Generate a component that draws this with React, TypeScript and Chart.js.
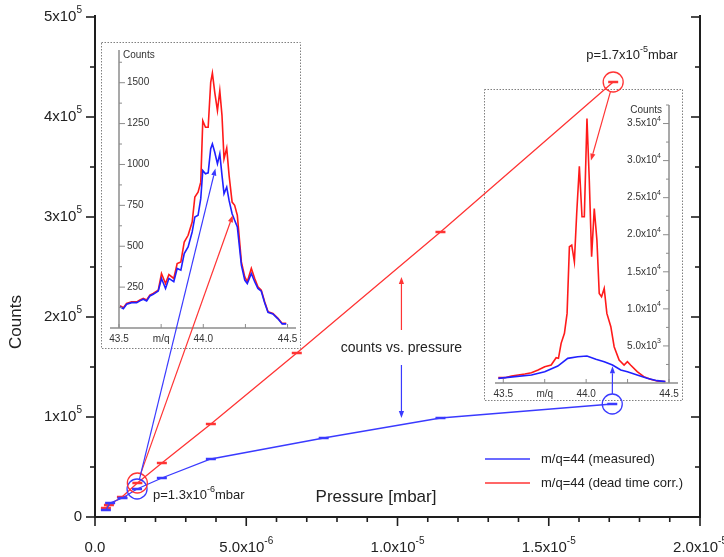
import React, { useEffect, useRef } from "react";
import { Chart, registerables } from "chart.js";
Chart.register(...registerables);

// ---------- main chart data ----------
const pressureMeasured = [3.6e-7, 5.0e-7, 9.1e-7, 1.39e-6, 2.21e-6, 3.83e-6, 7.56e-6, 1.142e-5, 1.71e-5];
const countsMeasured = [7000, 14000, 19000, 28000, 39000, 58000, 79000, 99000, 113000];
const pressureCorrected = [3.6e-7, 4.6e-7, 8.9e-7, 1.4e-6, 2.21e-6, 3.83e-6, 6.67e-6, 1.142e-5, 1.713e-5];
const countsCorrected = [9000, 12000, 20000, 34000, 54000, 93000, 164000, 285000, 435000];

const seriesLabels = ["m/q=44 (measured)", "m/q=44 (dead time corr.)"];

const mainXTicks = [0, 5e-6, 1e-5, 1.5e-5, 2e-5];
const mainXTickLabels = ["0.0", "5.0x10^{-6}", "1.0x10^{-5}", "1.5x10^{-5}", "2.0x10^{-5}"];
const mainXMinorStep = 1e-6;
const mainYTicks = [0, 1e5, 2e5, 3e5, 4e5, 5e5];
const mainYTickLabels = ["0", "1x10^{5}", "2x10^{5}", "3x10^{5}", "4x10^{5}", "5x10^{5}"];
const mainYMinorStep = 5e4;

// ---------- inset spectra (low pressure, p=1.3e-6 mbar) ----------
const lowMz = [43.506, 43.526, 43.545, 43.575, 43.605, 43.624, 43.644, 43.664, 43.683, 43.703, 43.733, 43.752, 43.776, 43.796, 43.825, 43.845, 43.867, 43.887, 43.910, 43.934, 43.950, 43.969, 43.985, 43.997, 44.013, 44.029, 44.044, 44.054, 44.068, 44.084, 44.098, 44.111, 44.123, 44.139, 44.153, 44.171, 44.186, 44.202, 44.226, 44.246, 44.261, 44.285, 44.305, 44.324, 44.344, 44.364, 44.384, 44.413, 44.443, 44.468, 44.492];
const lowCorrected = [136, 124, 150, 160, 160, 171, 181, 171, 201, 211, 232, 333, 272, 327, 303, 394, 404, 526, 567, 648, 801, 831, 892, 1268, 1228, 1228, 1502, 1559, 1441, 1329, 1451, 1299, 1035, 1100, 933, 770, 750, 689, 404, 313, 283, 364, 303, 252, 232, 160, 100, 89, 59, 28, 28];
const lowMeasured = [130, 118, 145, 155, 155, 166, 176, 166, 196, 206, 226, 303, 242, 303, 283, 364, 354, 455, 496, 587, 679, 689, 791, 963, 943, 949, 1096, 1126, 1075, 1004, 1065, 933, 821, 862, 780, 699, 659, 618, 384, 293, 272, 333, 283, 242, 225, 155, 96, 86, 56, 25, 25];

// ---------- inset spectra (high pressure, p=1.7e-5 mbar) ----------
const highMz = [43.470, 43.510, 43.550, 43.590, 43.630, 43.670, 43.710, 43.750, 43.789, 43.819, 43.833, 43.849, 43.869, 43.885, 43.899, 43.913, 43.929, 43.943, 43.959, 43.975, 43.989, 44.005, 44.019, 44.033, 44.049, 44.065, 44.079, 44.093, 44.109, 44.125, 44.149, 44.169, 44.199, 44.229, 44.249, 44.268, 44.308, 44.348, 44.388, 44.428, 44.478];
const highCorrected = [719, 719, 943, 1078, 1213, 1393, 1752, 2201, 2426, 3414, 3324, 5346, 6694, 9389, 18373, 18598, 16352, 22866, 29245, 22417, 22417, 35669, 27358, 17026, 23540, 19272, 12084, 11635, 12758, 9389, 7592, 4897, 3100, 2426, 2875, 2426, 1527, 854, 494, 270, 180];
const highMzMeasured = [43.470, 43.570, 43.670, 43.750, 43.829, 43.889, 43.949, 44.005, 44.059, 44.109, 44.159, 44.209, 44.249, 44.308, 44.368, 44.428, 44.478];
const highMeasured = [629, 854, 1078, 1527, 2291, 3324, 3549, 3639, 3190, 2875, 2426, 1752, 1527, 1078, 629, 315, 180];

const insetXTicks = [43.5, 43.75, 44.0, 44.25, 44.5];
const insetXTickLabels = ["43.5", "m/q", "44.0", "", "44.5"];
const lowYTicks = [250, 500, 750, 1000, 1250, 1500];
const lowYTickLabels = ["250", "500", "750", "1000", "1250", "1500"];
const highYTicks = [5000, 10000, 15000, 20000, 25000, 30000, 35000];
const highYTickLabels = ["5.0x10^{3}", "1.0x10^{4}", "1.5x10^{4}", "2.0x10^{4}", "2.5x10^{4}", "3.0x10^{4}", "3.5x10^{4}"];

// annotation links: from a main data point (circled) to a spot in an inset (inset data coords)
const insetLinks = [
  { series: 1, index: 3, inset: "low", to: [44.175, 690] },
  { series: 0, index: 3, inset: "low", to: [44.072, 975] },
  { series: 1, index: 8, inset: "high", to: [44.029, 30000] },
  { series: 0, index: 8, inset: "high", to: [44.159, 2250] },
];
const pressureNotes = [
  { series: 0, index: 3, text: "p=1.3x10^{-6}mbar", dx: 16, dy: 6 },
  { series: 1, index: 8, text: "p=1.7x10^{-5}mbar", dx: -27, dy: -27 },
];
const centerNote = { x: 1.013e-5, text: "counts vs. pressure", textY: 169000, redFrom: 187000, redTo: 240000, blueFrom: 152000, blueTo: 99000 };

const BLUE = "#3a3aff";
const RED = "#ff3434";
const IBLUE = "#2020ff";
const IRED = "#ff1a1a";
const FONT = "'Liberation Sans', Arial, sans-serif";

type Seg = { t: string; sup: boolean };
function parseRich(s: string): Seg[] {
  const out: Seg[] = [];
  const re = /\^\{([^}]*)\}/g;
  let last = 0;
  let m: RegExpExecArray | null;
  while ((m = re.exec(s))) {
    if (m.index > last) out.push({ t: s.slice(last, m.index), sup: false });
    out.push({ t: m[1], sup: true });
    last = re.lastIndex;
  }
  if (last < s.length) out.push({ t: s.slice(last), sup: false });
  return out;
}
function drawRich(ctx: CanvasRenderingContext2D, s: string, x: number, y: number, size: number, align: string, color: string) {
  const segs = parseRich(s);
  const supSize = Math.round(size * 0.66);
  const fN = `${size}px ${FONT}`;
  const fS = `${supSize}px ${FONT}`;
  let w = 0;
  for (const g of segs) {
    ctx.font = g.sup ? fS : fN;
    w += ctx.measureText(g.t).width;
  }
  let cx = align === "left" ? x : align === "center" ? x - w / 2 : x - w;
  ctx.fillStyle = color;
  ctx.textBaseline = "middle";
  ctx.textAlign = "left";
  for (const g of segs) {
    ctx.font = g.sup ? fS : fN;
    ctx.fillText(g.t, cx, g.sup ? y - size * 0.45 : y);
    cx += ctx.measureText(g.t).width;
  }
}
function seg(ctx: CanvasRenderingContext2D, x1: number, y1: number, x2: number, y2: number) {
  ctx.beginPath();
  ctx.moveTo(x1, y1);
  ctx.lineTo(x2, y2);
  ctx.stroke();
}
function arrow(ctx: CanvasRenderingContext2D, x1: number, y1: number, x2: number, y2: number, color: string) {
  ctx.strokeStyle = color;
  ctx.fillStyle = color;
  ctx.lineWidth = 1.2;
  const ang = Math.atan2(y2 - y1, x2 - x1);
  const hl = 7, hw = 2.6;
  const bx = x2 - hl * Math.cos(ang), by = y2 - hl * Math.sin(ang);
  seg(ctx, x1, y1, bx, by);
  ctx.beginPath();
  ctx.moveTo(x2, y2);
  ctx.lineTo(bx + hw * Math.sin(ang), by - hw * Math.cos(ang));
  ctx.lineTo(bx - hw * Math.sin(ang), by + hw * Math.cos(ang));
  ctx.closePath();
  ctx.fill();
}

type InsetCfg = {
  side: "left" | "right";
  yMax: number;
  yMinor: number;
  yTicks: number[];
  yTickLabels: string[];
};
function insetPlugin(cfg: InsetCfg) {
  return {
    id: "insetDecor",
    afterDraw(chart: any) {
      const { ctx, chartArea: a, scales, width, height } = chart;
      const x = scales.x, y = scales.y;
      ctx.save();
      ctx.setLineDash([1.5, 1.5]);
      ctx.strokeStyle = "#808080";
      ctx.lineWidth = 1;
      ctx.strokeRect(0.5, 0.5, width - 1, height - 1);
      ctx.setLineDash([]);
      const ax = cfg.side === "left" ? a.left : a.right;
      const dir = cfg.side === "left" ? 1 : -1;
      ctx.strokeStyle = "#8c8c8c";
      ctx.lineWidth = 1.5;
      seg(ctx, ax, a.top, ax, a.bottom);
      if (cfg.side === "left") seg(ctx, a.left - 9, a.bottom, a.right, a.bottom);
      else seg(ctx, a.left, a.bottom, a.right + 9, a.bottom);
      ctx.lineWidth = 1;
      for (let v = cfg.yMinor; v <= cfg.yMax + 1e-6; v += cfg.yMinor) {
        const py = y.getPixelForValue(v);
        const major = cfg.yTicks.some((t) => Math.abs(t - v) < 1e-6);
        seg(ctx, ax, py, ax + dir * (major ? 6 : 3), py);
      }
      cfg.yTicks.forEach((v, i) => {
        drawRich(ctx, cfg.yTickLabels[i], ax + dir * 8, y.getPixelForValue(v), 10, cfg.side === "left" ? "left" : "right", "#333");
      });
      insetXTicks.forEach((v, i) => {
        const px = x.getPixelForValue(v);
        seg(ctx, px, a.bottom, px, a.bottom - 4);
        if (insetXTickLabels[i]) drawRich(ctx, insetXTickLabels[i], px, a.bottom + 11, 10, "center", "#333");
      });
      drawRich(ctx, "Counts", cfg.side === "left" ? ax + 4 : ax - 7, a.top + 5, 10, cfg.side === "left" ? "left" : "right", "#333");
      ctx.restore();
    },
  };
}

function makeInset(canvas: HTMLCanvasElement, datasets: any[], xMin: number, xMax: number, yMax: number, padding: any, cfg: InsetCfg) {
  return new Chart(canvas, {
    type: "line",
    data: { datasets },
    options: {
      responsive: false,
      animation: false,
      layout: { padding },
      parsing: false,
      normalized: true,
      plugins: { legend: { display: false }, tooltip: { enabled: false } },
      elements: { point: { radius: 0 }, line: { tension: 0 } },
      scales: {
        x: { type: "linear", min: xMin, max: xMax, display: false },
        y: { type: "linear", min: 0, max: yMax, display: false },
      },
    } as any,
    plugins: [insetPlugin(cfg)],
  });
}

export default function App() {
  const mainRef = useRef<HTMLCanvasElement>(null);
  const lowRef = useRef<HTMLCanvasElement>(null);
  const highRef = useRef<HTMLCanvasElement>(null);

  useEffect(() => {
    const low = makeInset(
      lowRef.current!,
      [
        { data: lowMz.map((m, i) => ({ x: m, y: lowMeasured[i] })), borderColor: IBLUE, borderWidth: 1.6 },
        { data: lowMz.map((m, i) => ({ x: m, y: lowCorrected[i] })), borderColor: IRED, borderWidth: 1.6 },
      ],
      43.5, 44.55, 1700,
      { left: 18, top: 8, right: 5, bottom: 21 },
      { side: "left", yMax: 1700, yMinor: 125, yTicks: lowYTicks, yTickLabels: lowYTickLabels }
    );
    const high = makeInset(
      highRef.current!,
      [
        { data: highMzMeasured.map((m, i) => ({ x: m, y: highMeasured[i] })), borderColor: IBLUE, borderWidth: 1.6 },
        { data: highMz.map((m, i) => ({ x: m, y: highCorrected[i] })), borderColor: IRED, borderWidth: 1.6 },
      ],
      43.45, 44.5, 37500,
      { left: 11, top: 16, right: 14, bottom: 18 },
      { side: "right", yMax: 37500, yMinor: 2500, yTicks: highYTicks, yTickLabels: highYTickLabels }
    );
    const insets: any = {
      low: { chart: low, ox: 101, oy: 42 },
      high: { chart: high, ox: 484, oy: 89 },
    };

    const mainPlugin = {
      id: "mainDecor",
      afterDraw(chart: any) {
        const { ctx, chartArea: a, scales } = chart;
        const x = scales.x, y = scales.y;
        ctx.save();
        ctx.strokeStyle = "#1e1e1e";
        ctx.lineWidth = 2;
        ctx.beginPath();
        ctx.moveTo(a.left, a.top - 2);
        ctx.lineTo(a.left, a.bottom);
        ctx.lineTo(a.right, a.bottom);
        ctx.lineTo(a.right, a.top - 2);
        ctx.stroke();
        ctx.lineWidth = 1.6;
        for (let v = 0; v <= 5e5 + 1; v += mainYMinorStep) {
          const py = y.getPixelForValue(v);
          const major = mainYTicks.some((t) => Math.abs(t - v) < 1);
          const len = major ? 9 : 5;
          seg(ctx, a.left - len, py, a.left, py);
          seg(ctx, a.right - len, py, a.right, py);
        }
        for (let i = 0; i <= 20; i++) {
          const v = i * mainXMinorStep;
          const px = x.getPixelForValue(v);
          const major = mainXTicks.some((t) => Math.abs(t - v) < 1e-9);
          seg(ctx, px, a.bottom, px, a.bottom + (major ? 9 : 5));
        }
        mainYTickLabels.forEach((s, i) => drawRich(ctx, s, a.left - 13, y.getPixelForValue(mainYTicks[i]), 15, "right", "#222"));
        mainXTickLabels.forEach((s, i) => drawRich(ctx, s, x.getPixelForValue(mainXTicks[i]), a.bottom + 31, 15, "center", "#222"));
        // axis titles
        ctx.save();
        ctx.translate(16, 322);
        ctx.rotate(-Math.PI / 2);
        drawRich(ctx, "Counts", 0, 0, 17, "center", "#222");
        ctx.restore();
        drawRich(ctx, "Pressure [mbar]", 376, a.bottom - 20, 17, "center", "#222");

        const metas = [chart.getDatasetMeta(0), chart.getDatasetMeta(1)];
        const colors = [BLUE, RED];
        const R = 10;
        // circles
        const circled = [[0, 3], [1, 3], [0, 8], [1, 8]];
        circled.forEach(([s, i]) => {
          const el = metas[s].data[i];
          ctx.strokeStyle = colors[s];
          ctx.lineWidth = 1.3;
          ctx.beginPath();
          ctx.arc(el.x, el.y, R, 0, Math.PI * 2);
          ctx.stroke();
        });
        // links to insets
        insetLinks.forEach((l) => {
          const el = metas[l.series].data[l.index];
          const ins = insets[l.inset];
          const ex = ins.ox + ins.chart.scales.x.getPixelForValue(l.to[0]);
          const ey = ins.oy + ins.chart.scales.y.getPixelForValue(l.to[1]);
          const ang = Math.atan2(ey - el.y, ex - el.x);
          arrow(ctx, el.x + R * Math.cos(ang), el.y + R * Math.sin(ang), ex, ey, colors[l.series]);
        });
        // pressure notes
        pressureNotes.forEach((n) => {
          const el = metas[n.series].data[n.index];
          drawRich(ctx, n.text, el.x + n.dx, el.y + n.dy, 13, "left", "#222");
        });
        // center note with arrows
        const cx = x.getPixelForValue(centerNote.x);
        drawRich(ctx, centerNote.text, cx, y.getPixelForValue(centerNote.textY), 14, "center", "#222");
        arrow(ctx, cx, y.getPixelForValue(centerNote.redFrom), cx, y.getPixelForValue(centerNote.redTo), RED);
        arrow(ctx, cx, y.getPixelForValue(centerNote.blueFrom), cx, y.getPixelForValue(centerNote.blueTo), BLUE);
        // legend
        chart.data.datasets.forEach((ds: any, i: number) => {
          const ly = a.bottom - 58 + i * 24;
          ctx.strokeStyle = ds.borderColor;
          ctx.lineWidth = 1.3;
          seg(ctx, 485, ly, 530, ly);
          drawRich(ctx, ds.label, 541, ly, 13, "left", "#222");
        });
        ctx.restore();
      },
    };

    const main = new Chart(mainRef.current!, {
      type: "line",
      data: {
        datasets: [
          {
            label: seriesLabels[0],
            data: pressureMeasured.map((p, i) => ({ x: p, y: countsMeasured[i] })),
            borderColor: BLUE,
            backgroundColor: BLUE,
            borderWidth: 1.3,
            pointStyle: "line",
            pointRadius: 5,
            pointBorderWidth: 2.5,
            pointBorderColor: BLUE,
          },
          {
            label: seriesLabels[1],
            data: pressureCorrected.map((p, i) => ({ x: p, y: countsCorrected[i] })),
            borderColor: RED,
            backgroundColor: RED,
            borderWidth: 1.3,
            pointStyle: "line",
            pointRadius: 5,
            pointBorderWidth: 2.5,
            pointBorderColor: RED,
          },
        ],
      },
      options: {
        responsive: false,
        animation: false,
        parsing: false,
        layout: { padding: { left: 95, right: 24, top: 17, bottom: 40 } },
        plugins: { legend: { display: false }, tooltip: { enabled: false } },
        elements: { line: { tension: 0 } },
        scales: {
          x: { type: "linear", min: 0, max: 2e-5, display: false },
          y: { type: "linear", min: 0, max: 5e5, display: false },
        },
      } as any,
      plugins: [mainPlugin],
    });

    return () => {
      main.destroy();
      low.destroy();
      high.destroy();
    };
  }, []);

  return (
    <div style={{ position: "fixed", left: 0, top: 0, width: 724, height: 557, background: "#fff", overflow: "hidden" }}>
      <canvas ref={lowRef} width={200} height={307} style={{ position: "absolute", left: 101, top: 42 }} />
      <canvas ref={highRef} width={199} height={312} style={{ position: "absolute", left: 484, top: 89 }} />
      <canvas ref={mainRef} width={724} height={557} style={{ position: "absolute", left: 0, top: 0 }} />
    </div>
  );
}
